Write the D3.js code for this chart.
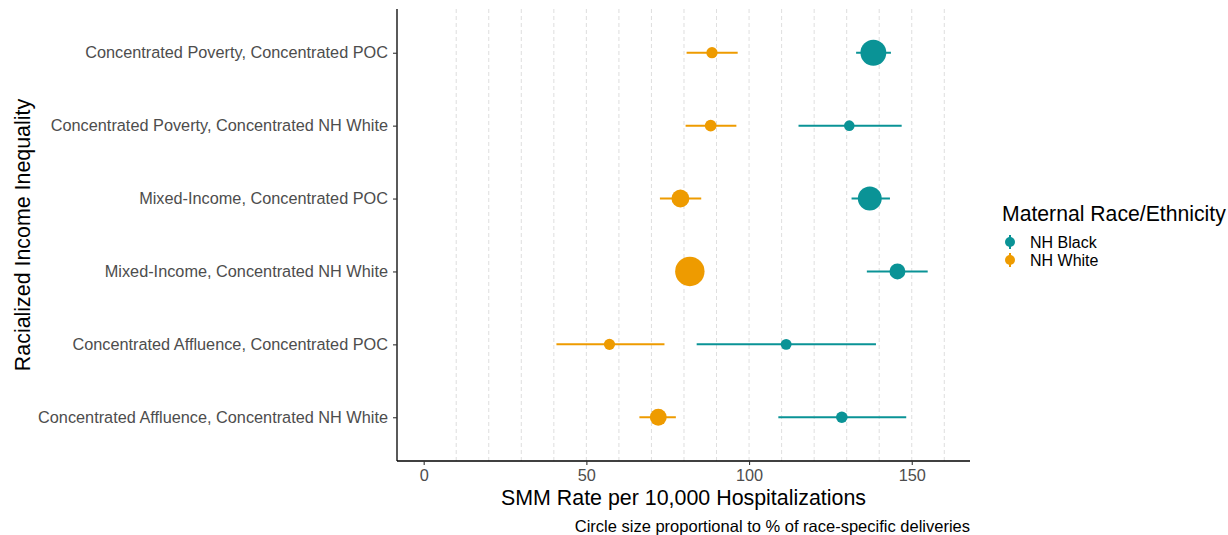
<!DOCTYPE html>
<html>
<head>
<meta charset="utf-8">
<script src="https://cdn.jsdelivr.net/npm/d3@7"></script>
<style>
  body { margin: 0; background: #fff; }
  text { font-family: "Liberation Sans", Arial, sans-serif; }
</style>
</head>
<body>
<svg id="chart" width="1228" height="535"></svg>
<script>
// categories, top to bottom
const categories = [
    'Concentrated Poverty, Concentrated POC',
    'Concentrated Poverty, Concentrated NH White',
    'Mixed-Income, Concentrated POC',
    'Mixed-Income, Concentrated NH White',
    'Concentrated Affluence, Concentrated POC',
    'Concentrated Affluence, Concentrated NH White'
];
const groups = ['NH Black', 'NH White'];

// SMM rate and 95% CI, per category
const blackRate = [138.2, 130.8, 137.1, 145.6, 111.4, 128.5];
const blackLow = [132.9, 115.2, 131.5, 136.2, 83.9, 109.0];
const blackHigh = [143.6, 146.9, 143.3, 154.9, 139.0, 148.3];
const blackPct = [36.0, 6.0, 30.7, 13.6, 6.4, 7.2];

const whiteRate = [88.6, 88.2, 78.9, 81.8, 57.1, 72.1];
const whiteLow = [80.8, 80.5, 72.6, 78.8, 40.8, 66.3];
const whiteHigh = [96.5, 96.1, 85.3, 84.8, 74.0, 77.5];
const whitePct = [6.8, 7.4, 17.2, 46.5, 6.8, 15.3];

const xTicks = [0, 50, 100, 150];
const gridTicks = [10, 20, 30, 40, 50, 60, 70, 80, 90, 100, 110, 120, 130, 140, 150, 160];

const rows = [];
categories.forEach((c, i) => {
    rows.push({ cat: c, group: 'NH White', rate: whiteRate[i], lo: whiteLow[i], hi: whiteHigh[i], pct: whitePct[i] });
    rows.push({ cat: c, group: 'NH Black', rate: blackRate[i], lo: blackLow[i], hi: blackHigh[i], pct: blackPct[i] });
});

const panel = { left: 397, right: 970, top: 9, bottom: 461 };
const svg = d3.select('#chart');

const x = d3.scaleLinear().domain([-8.2, 167.9]).range([panel.left, panel.right]);
const y = d3.scalePoint().domain(categories).range([panel.top, panel.bottom]).padding(0.6);
const color = d3.scaleOrdinal().domain(groups).range(['#0A9396', '#EE9B00']);
const size = d3.scaleSqrt().domain([0, 46.5]).range([0, 14.7]);

// dashed guides
svg.append('g')
    .selectAll('line')
    .data(gridTicks)
    .join('line')
    .attr('x1', (d) => x(d))
    .attr('x2', (d) => x(d))
    .attr('y1', panel.top)
    .attr('y2', panel.bottom)
    .attr('stroke', '#d6d6d6')
    .attr('stroke-width', 0.8)
    .attr('stroke-dasharray', '4,3');

// error bars
svg.append('g')
    .selectAll('line')
    .data(rows)
    .join('line')
    .attr('x1', (d) => x(d.lo))
    .attr('x2', (d) => x(d.hi))
    .attr('y1', (d) => y(d.cat))
    .attr('y2', (d) => y(d.cat))
    .attr('stroke', (d) => color(d.group))
    .attr('stroke-width', 2);

svg.append('g')
    .selectAll('circle')
    .data(rows)
    .join('circle')
    .attr('cx', (d) => x(d.rate))
    .attr('cy', (d) => y(d.cat))
    .attr('r', (d) => size(d.pct))
    .attr('fill', (d) => color(d.group));

// axes
const xAxis = svg.append('g')
    .attr('transform', `translate(0,${panel.bottom})`)
    .call(d3.axisBottom(x).tickValues(xTicks).tickSize(4).tickPadding(4));
const yAxis = svg.append('g')
    .attr('transform', `translate(${panel.left},0)`)
    .call(d3.axisLeft(y).tickSize(4).tickPadding(5));

[xAxis, yAxis].forEach((a) => {
    a.select('.domain').attr('stroke', '#000').attr('stroke-width', 1.3);
    a.selectAll('.tick line').attr('stroke', '#333').attr('stroke-width', 1.1);
    a.selectAll('.tick text').attr('fill', '#4d4d4d').style('font-size', '16.3px');
});
xAxis.select('.domain').attr('d', `M${panel.left},0H${panel.right}`);
yAxis.select('.domain').attr('d', `M0,${panel.top}V${panel.bottom}`);

svg.append('text')
    .attr('x', (panel.left + panel.right) / 2)
    .attr('y', 505)
    .attr('text-anchor', 'middle')
    .attr('fill', '#000')
    .style('font-size', '21.4px')
    .text('SMM Rate per 10,000 Hospitalizations');

svg.append('text')
    .attr('transform', `translate(30,${(panel.top + panel.bottom) / 2}) rotate(-90)`)
    .attr('text-anchor', 'middle')
    .attr('fill', '#000')
    .style('font-size', '21.4px')
    .text('Racialized Income Inequality');

svg.append('text')
    .attr('x', panel.right)
    .attr('y', 532)
    .attr('text-anchor', 'end')
    .attr('fill', '#000')
    .style('font-size', '16.5px')
    .text('Circle size proportional to % of race-specific deliveries');

// legend
const legend = svg.append('g').attr('transform', 'translate(1002,0)');
legend.append('text')
    .attr('x', 0)
    .attr('y', 221)
    .attr('fill', '#000')
    .style('font-size', '21.2px')
    .text('Maternal Race/Ethnicity');

const keys = legend.selectAll('g.key')
    .data(groups)
    .join('g')
    .attr('class', 'key')
    .attr('transform', (d, i) => `translate(8,${242 + i * 18})`);
keys.append('line')
    .attr('y1', -7)
    .attr('y2', 7)
    .attr('stroke', (d) => color(d))
    .attr('stroke-width', 2);
keys.append('circle')
    .attr('r', 5)
    .attr('fill', (d) => color(d));
keys.append('text')
    .attr('x', 20)
    .attr('y', 5.5)
    .attr('fill', '#000')
    .style('font-size', '16px')
    .text((d) => d);
</script>
</body>
</html>
